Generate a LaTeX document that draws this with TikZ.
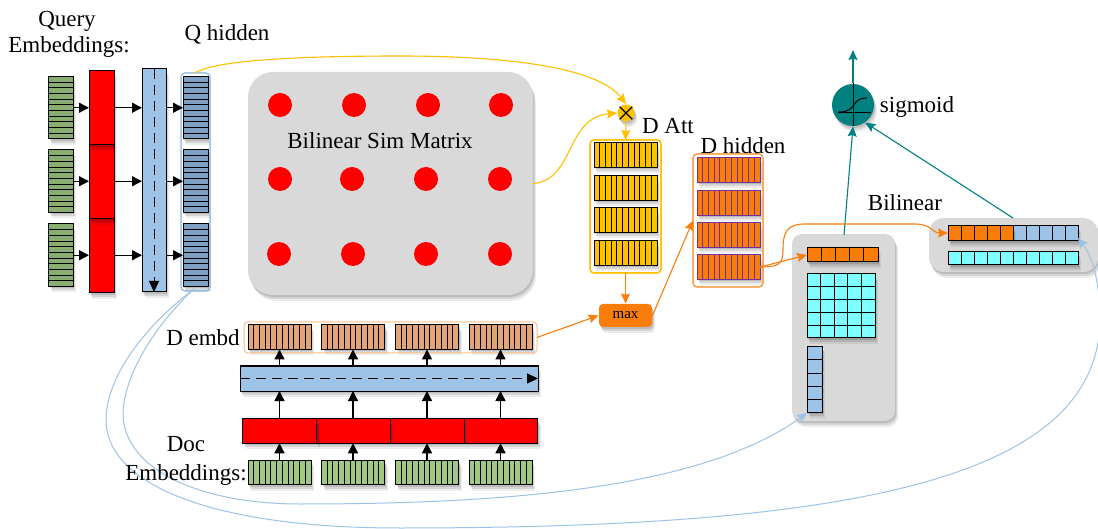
\documentclass[tikz,border=0pt]{standalone}
\usepackage{fontspec}
\setmainfont{Liberation Serif}
\usetikzlibrary{arrows.meta,shapes.geometric,shadows}
\definecolor{qgreen}{HTML}{8AAE72}
\definecolor{dgreen}{HTML}{A0C884}
\definecolor{lstm}{HTML}{9DC3E6}
\definecolor{qhid}{HTML}{7FA2C4}
\definecolor{gold}{HTML}{FFC000}
\definecolor{orng}{HTML}{FA7D0A}
\definecolor{sandy}{HTML}{E3A578}
\definecolor{purp}{HTML}{7030A0}
\definecolor{panel}{HTML}{D9D9D9}
\definecolor{tealc}{HTML}{008080}
\definecolor{cyanc}{HTML}{7FFFFF}
\newcommand{\cellstrip}[8]{%
  \node[strip,#8,minimum width=#4pt,minimum height=#5pt] (#1) at ({#2+#4/2},{#3+#5/2}) {};
  \foreach \i in {1,...,#6}
    \draw[#8,fill=none] ({#2+\i*#4/#6},#3) -- ({#2+\i*#4/#6},#3+#5);
  \foreach \i in {1,...,#7}
    \draw[#8,fill=none] (#2,{#3+\i*#5/#7}) -- (#2+#4,{#3+\i*#5/#7});
}
\begin{document}
\begin{tikzpicture}[
    x=1pt,y=-1pt,line width=1pt,
    >={Stealth[length=10pt,width=9pt,inset=1.5pt]},
    every node/.style={inner sep=0pt,font=\fontsize{23}{25}\selectfont},
    soft/.style={
      drop shadow={shadow xshift=3pt,shadow yshift=-6pt,opacity=.07,fill=black},
      drop shadow={shadow xshift=2pt,shadow yshift=-4pt,opacity=.1,fill=black},
      drop shadow={shadow xshift=1pt,shadow yshift=-2pt,opacity=.12,fill=black}},
    strip/.style={draw,rectangle,soft,outer sep=0pt},
    frame/.style={draw,rectangle,rounded corners=4pt,outer sep=0pt},
    panelbox/.style={rectangle,fill=panel,soft,outer sep=0pt},
    dot/.style={circle,fill=red,minimum size=24pt},
    flow/.style={-{Triangle[length=10pt,width=10pt]},line width=1.4pt,black},
    goldflow/.style={->,line width=1.1pt,gold},
    orngflow/.style={->,line width=1.1pt,orng},
    tealflow/.style={->,line width=1.1pt,tealc},
    blueflow/.style={->,line width=1pt,lstm}
  ]
  \useasboundingbox (0,0) rectangle (1098,529);

  % query side
  \foreach \n/\y/\r in {3/224/219,2/150/145,1/76.5/71} {
    \cellstrip{qe\n}{48.5}{\y}{24.5}{62.5}{1}{11}{fill=qgreen}
    \node[strip,fill=red,minimum width=25pt,minimum height=74pt] (qr\n) at (101.5,\r+37) {};
  }
  \node[strip,fill=lstm,minimum width=24pt,minimum height=223pt] (qlstm) at (154,180.5) {};
  \draw[-{Triangle[length=11pt,width=10pt]},dash pattern=on 10pt off 6pt] (qlstm.north) -- (qlstm.south);
  \foreach \n/\y in {1/76.5,2/150,3/224}
    \cellstrip{qh\n}{183}{\y}{25}{62.5}{1}{11}{fill=qhid}
  \node[frame,draw=lstm,minimum width=29pt,minimum height=218pt] (qframe) at (195.5,182) {};
  \foreach \n in {1,2,3} {
    \draw[flow] (qe\n.east) -- (qe\n-|qr\n.west);
    \draw[flow] (qe\n-|qr\n.east) -- (qe\n-|qlstm.west);
    \draw[flow] (qe\n-|qlstm.east) -- (qh\n.west);
  }

  % sim matrix
  \node[panelbox,rounded corners=25pt,minimum width=285pt,minimum height=223pt] (sim) at (390.5,183.5) {};
  \foreach \n/\x/\y in {a/280/105,b/354/105,c/428/105,d/501/105,e/280/179,f/352/179,g/426/179,h/500/179,i/279/254,j/353/254,k/426/254,l/500/254}
    \node[dot] (s\n) at (\x,\y) {};
  \node (simlabel) at (380,141) {Bilinear Sim Matrix};

  % attention and max
  \node[circle,fill=gold,minimum size=17pt,soft] (mult) at (626,113) {};
  \draw[line width=1.2pt] (mult.45) -- (mult.225) (mult.135) -- (mult.315);
  \foreach \n/\y in {1/143,2/176,3/208,4/241}
    \cellstrip{at\n}{594}{\y}{63}{24.5}{11}{1}{fill=gold}
  \node[frame,draw=gold,minimum width=71pt,minimum height=133pt] (att) at (625.5,206.5) {};
  \foreach \n/\y in {1/158,2/191,3/223,4/255}
    \cellstrip{dh\n}{697}{\y}{63}{24.5}{11}{1}{fill=orng,draw=purp}
  \node[frame,draw=orng!70,minimum width=70pt,minimum height=133pt] (dhid) at (728,220.5) {};
  \node[rectangle,rounded corners=4pt,fill=orng,minimum width=53pt,minimum height=23pt,soft,font=\fontsize{15}{17}\selectfont] (max) at (625.5,315.5) {max};

  % doc side
  \foreach \n/\x in {1/248,2/321.5,3/395.5,4/469} {
    \cellstrip{de\n}{\x}{325}{63}{24.5}{11}{1}{fill=sandy}
    \cellstrip{dg\n}{\x}{460}{63}{24.5}{11}{1}{fill=dgreen}
  }
  \node[frame,draw=orng!50,minimum width=293pt,minimum height=31pt] (dframe) at (390.5,337.5) {};
  \foreach \n/\x in {4/500.5,3/427,2/353,1/279.5}
    \node[strip,fill=red,minimum width=74pt,minimum height=24.5pt] (dr\n) at (\x,431) {};
  \node[strip,fill=lstm,minimum width=298pt,minimum height=25pt] (dlstm) at (389,378.5) {};
  \draw[-{Triangle[length=11pt,width=10pt]},dash pattern=on 10pt off 6pt] (dlstm.west) -- (dlstm.east);
  \foreach \n in {1,2,3,4} {
    \draw[flow] (dg\n.north) -- (dg\n.north|-dr\n.south);
    \draw[flow] (dg\n.north|-dr\n.north) -- (dg\n.north|-dlstm.south);
    \draw[flow] (dg\n.north|-dlstm.north) -- (de\n.south);
  }

  % bilinear panels
  \node[panelbox,rounded corners=10pt,minimum width=103pt,minimum height=187pt] (pmat) at (843.5,327.5) {};
  \cellstrip{vdoc}{807}{248}{71}{14}{5}{1}{fill=orng}
  \cellstrip{mat}{807}{274}{68}{64}{5}{5}{fill=cyanc}
  \cellstrip{vq}{807}{347}{15}{65}{1}{5}{fill=lstm}
  \node[panelbox,rounded corners=15pt,minimum width=169pt,minimum height=54pt] (pcat) at (1013.5,245) {};
  \cellstrip{catb}{1013}{226}{65}{15}{5}{1}{fill=lstm}
  \cellstrip{cata}{948}{226}{65}{15}{5}{1}{fill=orng}
  \cellstrip{catc}{948}{252}{130}{13}{10}{1}{fill=cyanc}

  % sigmoid
  \node[circle,fill=tealc,minimum size=42pt,soft] (sig) at (853,105) {};
  \draw (sig.north) -- (sig.south);
  \draw (838,113) -- (871,113);
  \draw (839,112) .. controls (858,112) and (850,98) .. (867,98);
  \coordinate (sigout) at (853,50);
  \draw[tealflow] (sig.north) -- (sigout);
  \coordinate (pmattop) at (844,235);
  \coordinate (pcattop) at (1013,218);
  \draw[tealflow] (pmattop) -- (sig.south);
  \draw[tealflow] (pcattop) -- (sig.-55);

  % curved connectors
  \coordinate (qtop) at (195,73);
  \coordinate (multtop) at (626,104);
  \coordinate (qbot) at (194,289);
  \coordinate (vqbot) at (807,413);
  \coordinate (catend) at (1078,238);
  \coordinate (dhout) at (760,267);
  \coordinate (catin) at (948,233);
  \draw[goldflow] (qtop) .. controls (215,60) and (300,56) .. (400,56) .. controls (520,56) and (600,70) .. (multtop);
  \draw[goldflow] (sim.east) .. controls (575,180) and (565,118) .. (mult.west);
  \draw[goldflow] (mult.south) -- (att.north);
  \draw[orngflow] (att.south) -- (max.north);
  \draw[orngflow] (dframe.east) -- (max.west);
  \draw[orngflow] (max.east) -- (dhid.west);
  \draw[orngflow] (dhout) -- (vdoc.west);
  \draw[orngflow] (dhout) .. controls (778,267) and (783,265) .. (783,250) .. controls (783,232) and (787,224) .. (805,224) -- (915,224) .. controls (932,224) and (932,233) .. (catin);
  \draw[blueflow] (qbot) .. controls (150,330) and (123,380) .. (123,415) .. controls (125,470) and (200,504) .. (300,504) .. controls (500,504) and (700,490) .. (vqbot);
  \draw[blueflow] (qbot) .. controls (140,330) and (106,380) .. (106,420) .. controls (106,480) and (200,528) .. (400,528) .. controls (850,528) and (1098,480) .. (1100,320) .. controls (1100,290) and (1095,260) .. (catend);

  % labels
  \node (qlabel) at (67,21) {Query};
  \node (qlabelb) at (69,47) {Embeddings:};
  \node (qhlabel) at (227,34) {Q hidden};
  \node (attlabel) at (668,126) {D Att};
  \node (dhlabel) at (743,146) {D hidden};
  \node (bilabel) at (905,203) {Bilinear};
  \node (siglabel) at (917,107) {sigmoid};
  \node (delabel) at (203,338) {D embd};
  \node (dlabel) at (186,444) {Doc};
  \node (dlabelb) at (186,475) {Embeddings:};
\end{tikzpicture}
\end{document}
